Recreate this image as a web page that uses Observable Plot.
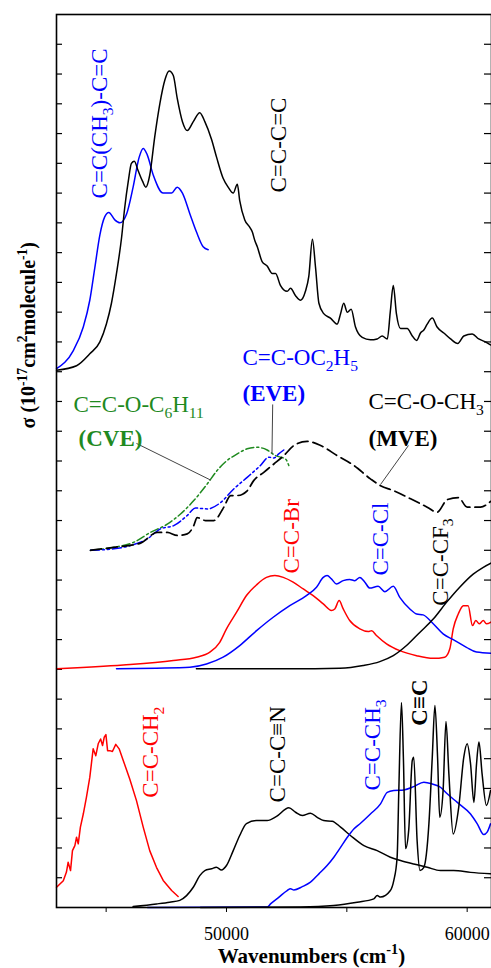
<!DOCTYPE html>
<html><head><meta charset="utf-8">
<script src="https://cdn.jsdelivr.net/npm/d3@7"></script>
<script src="https://cdn.jsdelivr.net/npm/@observablehq/plot@0.6"></script>
<style>body{margin:0;background:#fff} svg{display:block}</style>
</head><body><div id="chart"></div>
<script>
const SERIF = "'Liberation Serif','Times New Roman',serif";
const BLUE = "#0000ff", RED = "#ff0000", BLACK = "#000000", GREEN = "#1f8a1f";

// axis ticks
const X_TICKS = [45000, 50000, 55000, 60000];
const X_TICK_LABELS = {50000: "50000", 60000: "60000"};
const Y_TICKS = d3.range(1, 30);
const X_TITLE = "Wavenumbers (cm^{-1})";
const Y_TITLE = "σ (10^{-17}cm^{2}molecule^{-1})";

// ---- top panel (offset 18) : [wavenumber, sigma]
const methylButadiene = [[42940,18.1],[43630,18.7],[44050,19.5],[44320,20.4],[44530,21.5],[44740,22.6],[44940,23.2],[45110,23.35],[45360,23.1],[45570,23.0],[45850,23.3],[46120,24.2],[46370,25.2],[46540,25.5],[46700,25.3],[46960,24.6],[47370,24.0],[47720,24.0],[47950,24.2],[48170,24.0],[48480,23.3],[48750,22.7],[49030,22.2],[49240,22.1]];
const butadiene = [[42940,18.05],[43770,18.2],[44320,18.6],[44740,19.0],[45010,19.6],[45220,20.3],[45430,21.3],[45640,22.5],[45770,23.5],[45920,24.4],[46050,25.0],[46170,25.07],[46330,24.75],[46510,24.4],[46650,24.2],[46810,24.6],[47020,25.9],[47230,27.0],[47440,27.8],[47620,28.1],[47790,27.95],[47950,27.2],[48170,26.4],[48370,26.1],[48620,26.4],[48890,26.7],[49100,26.4],[49380,25.8],[49590,25.2],[49860,24.5],[50070,24.2],[50280,24.0],[50450,24.3],[50550,23.75],[50760,23.1],[50970,22.85],[51070,22.7],[51180,22.4],[51280,22.2],[51480,21.7],[51690,21.55],[51900,21.3],[52040,21.3],[52240,20.9],[52520,20.7],[52660,20.8],[52870,20.55],[53080,20.4],[53280,20.7],[53420,21.2],[53570,22.45],[53700,21.5],[53840,20.3],[54040,19.95],[54320,19.8],[54600,19.6],[54740,19.95],[54870,20.3],[55020,20.0],[55180,20.1],[55360,19.5],[55640,19.15],[55980,19.07],[56260,19.1],[56470,19.2],[56680,19.1],[56810,20.05],[56930,20.9],[57060,19.95],[57230,19.45],[57510,19.45],[57720,19.2],[57900,19.05],[58060,19.3],[58200,19.4],[58340,19.6],[58550,19.8],[58750,19.5],[59030,19.3],[59310,19.1],[59610,18.95],[59860,19.2],[60210,19.27],[60480,19.1],[60760,19.0],[60970,18.9]];

// ---- vinyl ethers (offset 12)
const mve = [[44350,12.0],[45320,12.1],[46430,12.24],[47120,12.6],[47540,12.6],[47950,12.5],[48370,12.55],[48640,12.83],[48780,13.1],[49130,13.0],[49470,13.0],[49890,13.45],[50170,13.84],[50450,13.84],[50860,14.0],[51130,14.34],[51550,14.62],[51970,14.9],[52380,15.18],[52800,15.52],[53350,15.66],[53910,15.52],[54600,15.18],[55290,14.85],[55980,14.4],[56400,14.17],[56950,14.0],[57650,13.73],[58340,13.45],[58750,13.28],[59170,13.7],[59640,13.77],[60000,13.45],[60550,13.45],[60970,13.64]];
const eve = [[44350,12.0],[45320,12.05],[46010,12.16],[46700,12.38],[47260,12.72],[47810,12.83],[48370,13.17],[48710,13.42],[49200,13.39],[49750,13.6],[50300,14.06],[50860,14.45],[51410,14.85],[51760,15.13],[51970,15.1],[52170,15.24],[52380,15.37]];
const cve = [[44350,12.0],[45320,12.1],[46150,12.27],[46840,12.6],[47540,12.88],[48090,13.22],[48640,13.67],[49200,14.23],[49610,14.68],[50030,15.02],[50450,15.24],[50860,15.41],[51280,15.46],[51690,15.37],[52040,15.18],[52240,15.13],[52450,15.07],[52590,14.85]];

// ---- halides (offset 8)
const vinylBromide = [[42940,8.02],[45710,8.15],[47790,8.3],[48750,8.41],[49310,8.58],[49720,8.91],[50000,9.36],[50420,9.92],[50830,10.48],[51250,10.84],[51660,11.09],[52010,11.15],[52360,11.09],[52770,10.93],[53190,10.7],[53600,10.48],[54020,10.2],[54360,9.98],[54500,10.03],[54680,10.31],[54850,10.03],[55120,9.64],[55540,9.36],[55890,9.27],[56030,9.3],[56230,9.14],[56650,8.86],[57200,8.63],[57900,8.46],[58590,8.37],[59070,8.41],[59280,8.69],[59420,9.36],[59630,9.86],[59840,10.14],[60040,10.14],[60220,9.47],[60360,9.64],[60500,9.53],[60670,9.64],[60800,9.53],[61010,9.6]];
const vinylChloride = [[45430,8.02],[47090,8.04],[48480,8.07],[49170,8.18],[49860,8.41],[50550,8.8],[51250,9.3],[51940,9.75],[52630,10.14],[53320,10.48],[53740,10.76],[54020,11.09],[54180,11.15],[54360,11.04],[54570,10.87],[54850,10.98],[55120,11.02],[55330,10.98],[55540,11.09],[55750,10.93],[55950,10.73],[56300,10.79],[56580,10.61],[56930,10.79],[57200,10.42],[57620,10.03],[57900,9.86],[58170,9.83],[58590,9.53],[59000,9.19],[59420,9.0],[59970,8.74],[60390,8.58],[61010,8.54]];
const trifluoropropene = [[48750,8.02],[52630,8.02],[54710,8.04],[55680,8.13],[56370,8.26],[56930,8.46],[57480,8.8],[58030,9.24],[58590,9.69],[59140,10.25],[59690,10.76],[60250,11.2],[60670,11.43],[61010,11.58]];

// ---- bottom panel (offset 0)
const allyl = [[42940,0.68],[43220,0.9],[43350,1.19],[43420,1.52],[43520,1.24],[43600,1.91],[43700,2.08],[43770,2.36],[43840,2.14],[43930,2.7],[44050,3.14],[44180,3.7],[44320,4.37],[44460,5.33],[44570,5.1],[44670,5.5],[44770,5.66],[44850,5.44],[44920,5.72],[44990,5.81],[45060,5.27],[45150,5.27],[45260,5.24],[45400,5.48],[45540,5.33],[45710,4.94],[45980,4.32],[46260,3.59],[46540,2.7],[46810,1.91],[47090,1.35],[47370,0.91],[47720,0.57],[47990,0.37]];
const acrylonitrile = [[46120,0.03],[47090,0.12],[47640,0.18],[48060,0.24],[48340,0.4],[48620,0.68],[48890,1.07],[49100,1.24],[49380,1.3],[49580,1.35],[49790,1.26],[50000,1.41],[50280,1.91],[50550,2.42],[50830,2.82],[51250,2.92],[51690,2.92],[52080,3.06],[52590,3.35],[52870,3.2],[53150,3.09],[53490,3.17],[53770,3.03],[54040,2.92],[54390,2.9],[54740,2.7],[55150,2.42],[55710,2.08],[56260,1.91],[56810,1.69],[57230,1.58],[57780,1.46],[58340,1.35],[58890,1.24],[59440,1.24],[60140,1.18],[60970,1.13]];
const propene = [[46720,0],[51700,0.02],[51830,0.12],[52170,0.34],[52520,0.57],[52660,0.63],[52800,0.59],[53150,0.7],[53490,0.85],[53840,1.13],[54180,1.41],[54460,1.69],[54740,2.02],[55020,2.36],[55290,2.64],[55570,2.83],[55980,3.14],[56400,3.48],[56680,3.87],[56950,3.93],[57370,3.95],[57780,4.06],[58200,4.21],[58550,4.15],[58890,4.04],[59170,3.82],[59590,3.53],[60140,3.14],[60420,2.81],[60690,2.45],[60830,2.53],[60970,2.81]];
const acetylene = [[48920,0],[53080,0.02],[54450,0.07],[55430,0.18],[56120,0.29],[56260,0.4],[56400,0.35],[56810,0.57],[56950,0.9],[57090,1.69],[57160,3.93],[57270,6.89],[57350,5.04],[57440,1.98],[57570,2.59],[57720,4.94],[57780,5.05],[57920,2.25],[58040,1.24],[58200,1.35],[58410,2.81],[58550,5.05],[58660,6.79],[58770,5.05],[58860,3.03],[59000,3.93],[59120,6.25],[59240,4.49],[59420,2.47],[59650,3.37],[59860,5.05],[60000,5.5],[60140,4.83],[60280,3.53],[60390,4.83],[60490,5.56],[60620,4.49],[60800,3.43],[60970,3.93]];

// leader lines [x1, y1, x2, y2]
const leaders = [[46260,15.59,49340,14.36],[51920,16.9,51890,15.25],[57560,15.52,56400,14.21]];

// curve labels
const labelText   = ["C=C(CH_{3})-C=C","C=C-C=C","C=C-Br","C=C-Cl","C=C-CF_{3}","C=C-CH_{2}","C=C-C≡N","C=C-CH_{3}"];
const labelW      = [45056, 52493, 52992, 56731, 59183, 47175, 52451, 56399];
const labelS      = [23.82, 24.02, 11.22, 11.15, 10.14, 3.69, 3.53, 3.93];
const labelColor  = [BLUE, BLACK, RED, BLUE, BLACK, RED, BLACK, BLUE];
const hText  = ["C=C-OC_{2}H_{5}", "C=C-O-CH_{3}", "C=C-O-C_{6}H_{11}"];
const hW     = [50665, 55900, 43643];
const hS     = [18.21, 16.76, 16.66];
const hColor = [BLUE, BLACK, GREEN];
const bText  = ["(EVE)", "(MVE)", "(CVE)"];
const bW     = [50665, 55900, 43851];
const bS     = [17.0, 15.52, 15.52];
const bColor = [BLUE, BLACK, GREEN];

const toRows = a => a.map(([w, s]) => ({w, s}));
const zipLabels = (t, w, s, c) => t.map((d, i) => ({t: d, w: w[i], s: s[i], c: c[i]}));

const line = (data, color, extra = {}) => Plot.line(toRows(data), {x: "w", y: "s", stroke: color, strokeWidth: 1.5, curve: "monotone-x", ...extra});

const textBase = {x: "w", y: "s", text: "t", fill: "c", textAnchor: "start", lineAnchor: "bottom", fontFamily: SERIF, fontSize: 23};

const chart = Plot.plot({
  width: 491, height: 968,
  marginLeft: 56, marginRight: 0, marginTop: 14, marginBottom: 61,
  style: {fontFamily: SERIF, fontSize: "18px", color: "black", background: "white"},
  x: {domain: [42937, 61011], ticks: X_TICKS, tickFormat: d => X_TICK_LABELS[d] ?? "", tickSize: 5, tickPadding: 15, label: null},
  y: {domain: [0, 30], axis: null},
  marks: [
    Plot.tickY(Y_TICKS, {y: d => d, insetRight: 429, stroke: "black", strokeWidth: 1.2}),
    Plot.tickY(Y_TICKS, {y: d => d, insetLeft: 428, stroke: "black", strokeWidth: 1.2}),
    line(methylButadiene, BLUE),
    line(butadiene, BLACK),
    line(cve, GREEN, {strokeDasharray: "8,3,2,3"}),
    line(eve, BLUE, {strokeDasharray: "9,3,2,3,2,3"}),
    line(mve, BLACK, {strokeDasharray: "11,5", strokeWidth: 1.7}),
    line(vinylBromide, RED),
    line(vinylChloride, BLUE),
    line(trifluoropropene, BLACK),
    line(allyl, RED, {curve: "linear"}),
    line(acrylonitrile, BLACK),
    line(propene, BLUE),
    line(acetylene, BLACK),
    Plot.link(leaders, {x1: d => d[0], y1: d => d[1], x2: d => d[2], y2: d => d[3], stroke: "#444", strokeWidth: 1}),
    Plot.text(zipLabels(labelText, labelW, labelS, labelColor), {...textBase, rotate: -90}),
    Plot.text([{t: "C≡C", w: 58351, s: 6.11, c: BLACK}], {...textBase, rotate: -90, fontWeight: "bold"}),
    Plot.text(zipLabels(hText, hW, hS, hColor), textBase),
    Plot.text(zipLabels(bText, bW, bS, bColor), {...textBase, fontWeight: "bold"}),
    Plot.text([X_TITLE], {frameAnchor: "bottom", dx: 37.5, dy: 55, lineAnchor: "bottom", fontWeight: "bold", fontSize: 21, fontFamily: SERIF}),
    Plot.text([Y_TITLE], {frameAnchor: "left", dx: -22, dy: -32.5, rotate: -90, lineAnchor: "bottom", fontWeight: "bold", fontSize: 20, fontFamily: SERIF}),
    Plot.frame({stroke: "black", strokeWidth: 1.6})
  ]
});
document.getElementById("chart").appendChild(chart);

// render sub/superscripts as tspans
(function richify(svg) {
  const ns = "http://www.w3.org/2000/svg";
  svg.querySelectorAll("text").forEach(el => {
    const s = el.textContent;
    if (!/[_^]\{/.test(s)) return;
    const fs = parseFloat(getComputedStyle(el).fontSize) || 16;
    while (el.firstChild) el.removeChild(el.firstChild);
    const re = /([_^])\{([^}]*)\}/g;
    let last = 0, cur = 0, m;
    const add = (str, off, small) => {
      if (!str) return;
      const t = document.createElementNS(ns, "tspan");
      t.textContent = str;
      const dy = off - cur;
      if (dy) t.setAttribute("dy", dy.toFixed(2));
      cur = off;
      if (small) t.setAttribute("font-size", (fs * 0.68).toFixed(1));
      el.appendChild(t);
    };
    while ((m = re.exec(s))) {
      add(s.slice(last, m.index), 0, false);
      add(m[2], m[1] === "_" ? fs * 0.26 : -fs * 0.4, true);
      last = re.lastIndex;
    }
    add(s.slice(last), 0, false);
  });
})(chart);
</script>
</body></html>
